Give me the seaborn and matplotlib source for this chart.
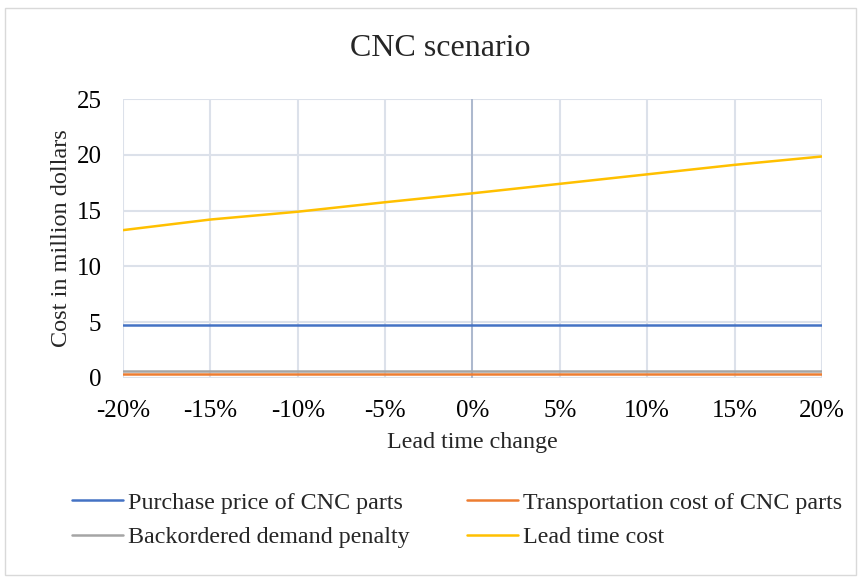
import numpy as np
import pandas as pd
import matplotlib
matplotlib.use("Agg")
import matplotlib.pyplot as plt
import seaborn as sns
from matplotlib.patches import Rectangle
from matplotlib.lines import Line2D
from matplotlib.ticker import FuncFormatter, MultipleLocator

# Lead time change (fraction) and the cost series in million dollars
lead_time_change = [-0.20, -0.15, -0.10, -0.05, 0.0, 0.05, 0.10, 0.15, 0.20]
purchase_price = [4.75] * 9
transportation_cost = [0.38] * 9
backorder_penalty = [0.62] * 9
lead_time_cost = [13.25, 14.2, 14.9, 15.75, 16.55, 17.4, 18.25, 19.1, 19.85]

series_names = [
    "Purchase price of CNC parts",
    "Transportation cost of CNC parts",
    "Backordered demand penalty",
    "Lead time cost",
]
series_values = [purchase_price, transportation_cost, backorder_penalty, lead_time_cost]
series_colors = ["#4472C4", "#ED7D31", "#A5A5A5", "#FFC000"]

frames = []
for name, vals in zip(series_names, series_values):
    frames.append(pd.DataFrame({"change": lead_time_change, "cost": vals, "series": name}))
df = pd.concat(frames, ignore_index=True)

sns.set_theme(style="white")
plt.rcParams["font.family"] = ["Liberation Serif", "DejaVu Serif"]

fig = plt.figure(figsize=(8.61, 5.8), dpi=100)
fig.patch.set_facecolor("white")
fig.patches.append(Rectangle((5 / 861, 5 / 580), 851 / 861, 567 / 580,
                             transform=fig.transFigure, fill=False,
                             edgecolor="#D9D9D9", linewidth=1.0))

ax = fig.add_axes([123 / 861, 1 - 378 / 580, (822 - 123) / 861, (378 - 99) / 580])

# Gridlines first, then the vertical axis line at 0 %
ax.set_axisbelow(True)
ax.grid(True, color="#DCE1EA", linewidth=1.5)
ax.axvline(0, color="#A9B5CB", linewidth=1.3, zorder=1)

# Grey first so the orange line sits on top of it
draw_order = [2, 1, 0, 3]
for i in draw_order:
    sub = df[df["series"] == series_names[i]]
    sns.lineplot(data=sub, x="change", y="cost", color=series_colors[i],
                 linewidth=1.8, ax=ax, legend=False, zorder=3)

ax.set_xlim(-0.20, 0.20)
ax.set_ylim(0, 25)
ax.xaxis.set_major_locator(MultipleLocator(0.05))
ax.yaxis.set_major_locator(MultipleLocator(5))
ax.xaxis.set_major_formatter(FuncFormatter(lambda v, p: f"{round(v * 100):d}%"))
for s in ax.spines.values():
    s.set_visible(False)
ax.tick_params(axis="both", length=0, labelsize=18, colors="black")
ax.tick_params(axis="x", pad=16)
ax.tick_params(axis="y", pad=15.5)

ax.set_xlabel("Lead time change", fontsize=17.3, labelpad=7)
ax.set_ylabel("Cost in million dollars", fontsize=17.5, labelpad=3)

# Chart title centred over the whole chart area
fig.text(440 / 861, 1 - 48 / 580, "CNC scenario", fontsize=23, ha="center", va="center")

# Legend filled row by row: matplotlib fills columns first, so reorder
leg_order = [0, 2, 1, 3]
handles = [Line2D([], [], color=series_colors[i], linewidth=1.8) for i in leg_order]
labels = [series_names[i] for i in leg_order]
fig.legend(handles, labels, loc="center", bbox_to_anchor=(457 / 861, 1 - 520 / 580),
           ncol=2, frameon=False, fontsize=17.3, handlelength=2.12, handletextpad=0.2,
           columnspacing=2.4, labelspacing=0.52)

fig.savefig("out.png", dpi=100, facecolor="white")
